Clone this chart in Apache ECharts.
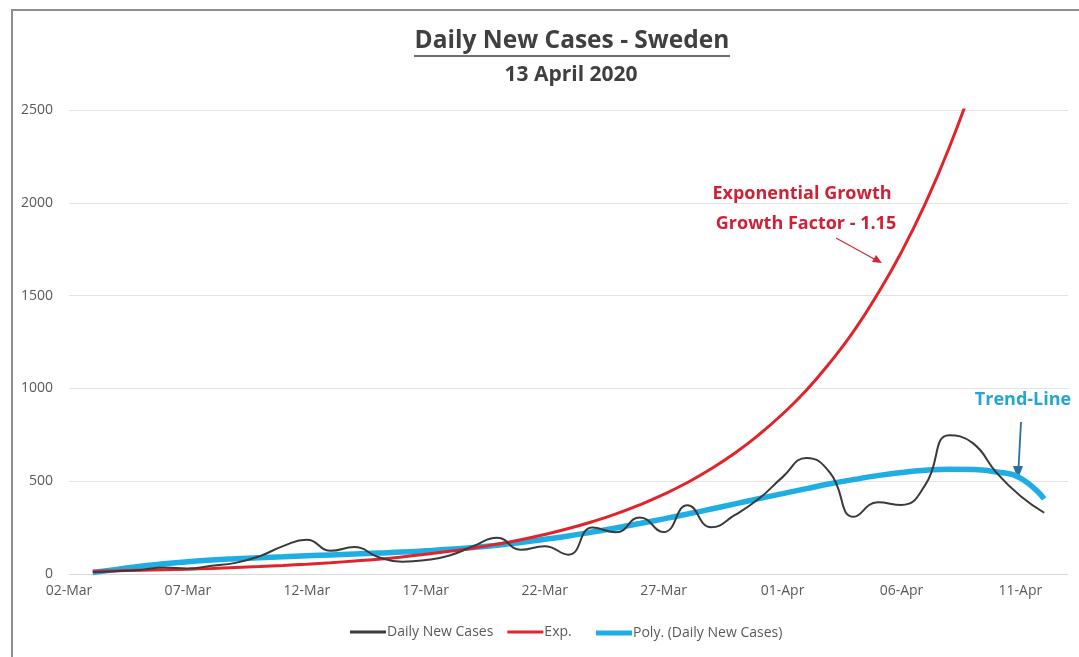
<!DOCTYPE html>
<html>
<head>
<meta charset="utf-8">
<script src="https://cdn.jsdelivr.net/npm/echarts@6/dist/echarts.min.js"></script>
<style>
html,body{margin:0;padding:0;background:#fff;}
#c{width:1079px;height:657px;}
</style>
</head>
<body>
<div id="c"></div>
<script>
var dates = ["02-Mar","03-Mar","04-Mar","05-Mar","06-Mar","07-Mar","08-Mar","09-Mar","10-Mar","11-Mar",
  "12-Mar","13-Mar","14-Mar","15-Mar","16-Mar","17-Mar","18-Mar","19-Mar","20-Mar","21-Mar",
  "22-Mar","23-Mar","24-Mar","25-Mar","26-Mar","27-Mar","28-Mar","29-Mar","30-Mar","31-Mar",
  "01-Apr","02-Apr","03-Apr","04-Apr","05-Apr","06-Apr","07-Apr","08-Apr","09-Apr","10-Apr",
  "11-Apr","12-Apr","13-Apr"];

var dailyNewCases = [null,10,15,22,35,30,45,60,95,150,
  185,125,145,92,66,75,100,150,195,130,
  150,104,250,225,305,226,370,252,318,405,
  522,625,545,308,386,372,480,748,705,545,
  420,330,null];

var expTrend = [null,15,17,20,23,26,30,35,40,46,
  53,61,70,80,92,106,122,140,161,185,
  213,245,282,324,373,429,493,567,652,750,
  862,990,1140,1310,1510,1735,1995,2295,2640,null,
  null,null,null];

var polyTrend = [null,8,25,42,55,66,75,82,88,93,
  98,103,108,113,118,125,133,143,155,170,
  187,205,226,248,272,297,323,350,378,406,
  433,460,486,509,530,547,559,565,563,550,
  517,405,null];

var yTicks = {min:0, max:2500, interval:500};

var chart = echarts.init(document.getElementById('c'));
var FONT = '"Open Sans", Lato, sans-serif';
var legendText = {color:'#595959', fontSize:14, fontFamily:FONT, padding:[0,0,0,-4]};
chart.setOption({
  animation:false,
  backgroundColor:'#fff',
  grid:{left:69, right:11, top:110, bottom:83, containLabel:false},
  xAxis:{
    type:'category', data:dates, boundaryGap:false,
    axisLine:{show:true, lineStyle:{color:'#d9d9d9'}},
    axisTick:{show:false},
    axisLabel:{interval:4, color:'#595959', fontSize:14, fontFamily:FONT, margin:10},
    splitLine:{show:false}
  },
  yAxis:{
    type:'value', min:yTicks.min, max:yTicks.max, interval:yTicks.interval,
    axisLine:{show:false}, axisTick:{show:false},
    axisLabel:{color:'#595959', fontSize:14, fontFamily:FONT, margin:16, formatter:function(v){return String(v);}},
    splitLine:{lineStyle:{color:'#e3e3e3', width:1}}
  },
  legend:[
    {bottom:13, left:345, itemWidth:36, itemHeight:3, itemGap:14, icon:'rect',
     textStyle:legendText, data:['Daily New Cases','Exp.']},
    {bottom:12, left:591, itemWidth:36, itemHeight:5, icon:'rect',
     textStyle:legendText, data:['Poly. (Daily New Cases)']}
  ],
  series:[
    {name:'Daily New Cases', type:'line', data:dailyNewCases, smooth:0.5, symbol:'none',
     lineStyle:{color:'#3a3a3a', width:2}, itemStyle:{color:'#3a3a3a'}, z:4},
    {name:'Exp.', type:'line', data:expTrend, smooth:0.5, symbol:'none', clip:true,
     lineStyle:{color:'#e0242c', width:3}, itemStyle:{color:'#e0242c'}, z:3},
    {name:'Poly. (Daily New Cases)', type:'line', data:polyTrend, smooth:0.5, symbol:'none',
     lineStyle:{color:'#1eaee4', width:5.5}, itemStyle:{color:'#1eaee4'}, z:2}
  ],
  graphic:[
    {type:'rect', shape:{x:12,y:10,width:1100,height:700}, style:{fill:null, stroke:'#8f8f8f', lineWidth:2}, silent:true},
    {type:'text', style:{text:'Daily New Cases - Sweden', x:572, y:41, textAlign:'center', textVerticalAlign:'middle',
      font:'bold 24.5px '+FONT, fill:'#404040'}},
    {type:'line', shape:{x1:414, y1:56, x2:730, y2:56}, style:{stroke:'#404040', lineWidth:1.5}},
    {type:'text', style:{text:'13 April 2020', x:571, y:75, textAlign:'center', textVerticalAlign:'middle',
      font:'bold 21px '+FONT, fill:'#404040'}},
    {type:'text', style:{text:'Exponential Growth', x:802, y:194, textAlign:'center', textVerticalAlign:'middle',
      font:'bold 18px '+FONT, fill:'#cf2136'}},
    {type:'text', style:{text:'Growth Factor - 1.15', x:806, y:224, textAlign:'center', textVerticalAlign:'middle',
      font:'bold 18px '+FONT, fill:'#cf2136'}},
    {type:'line', shape:{x1:836, y1:238, x2:876, y2:260}, style:{stroke:'#c8283a', lineWidth:1.2}},
    {type:'polygon', shape:{points:[[882,263],[872,262],[876,255]]}, style:{fill:'#c8283a'}},
    {type:'text', style:{text:'Trend-Line', x:1023, y:400, textAlign:'center', textVerticalAlign:'middle',
      font:'bold 18px '+FONT, fill:'#23a7d2'}},
    {type:'line', shape:{x1:1021, y1:422, x2:1018.5, y2:468}, style:{stroke:'#2c6ea3', lineWidth:1.8}},
    {type:'polygon', shape:{points:[[1018,479],[1013,466],[1023,466]]}, style:{fill:'#2c6ea3'}}
  ]
});
</script>
</body>
</html>
